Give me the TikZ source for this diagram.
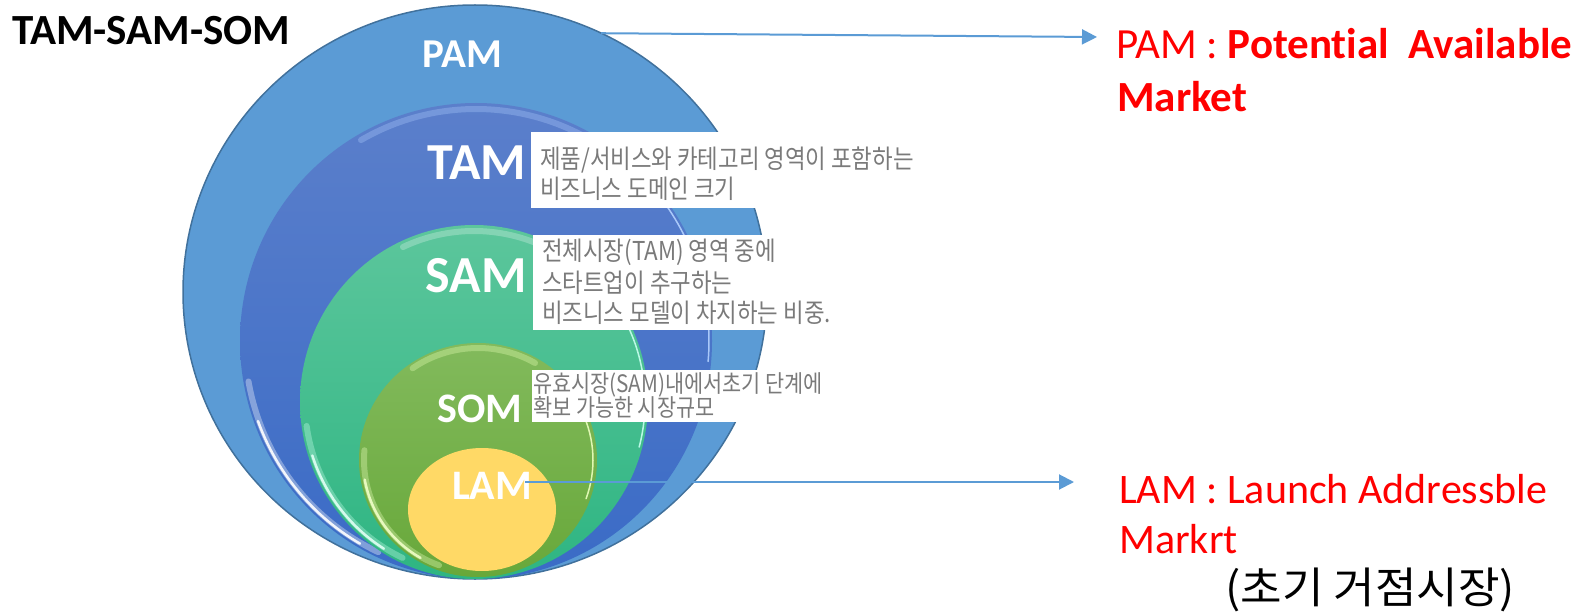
\documentclass[tikz,border=0pt]{standalone}
\usepackage{fontspec}
\setmainfont[Ligatures=NoCommon]{Carlito}
\newfontfamily\krbox[FakeStretch=0.86]{Noto Sans CJK KR}
\newfontfamily\krsmall[FakeStretch=0.865]{Noto Sans CJK KR}
\newfontfamily\krbig[FakeStretch=1.05]{Noto Sans CJK KR}
\usetikzlibrary{shapes.geometric,arrows.meta}
\definecolor{pamfill}{HTML}{5B9BD5}
\definecolor{pamedge}{HTML}{41719C}
\definecolor{tamtop}{HTML}{5B7FCB}
\definecolor{tambot}{HTML}{3A6BC6}
\definecolor{samtop}{HTML}{5CC69C}
\definecolor{sambot}{HTML}{2EB582}
\definecolor{somtop}{HTML}{82BA5C}
\definecolor{sombot}{HTML}{68A83A}
\definecolor{lamfill}{HTML}{FFD966}
\definecolor{boxtext}{HTML}{7A7A7A}
\definecolor{linkblue}{HTML}{5B9BD5}
\definecolor{labelred}{HTML}{FF0000}
\begin{document}
\begin{tikzpicture}[x=1pt,y=1pt,
  market/.style={ellipse, inner sep=0pt, outer sep=0pt},
  ringlabel/.style={text=white, font=\bfseries, inner sep=0pt, anchor=base},
  whitebox/.style={fill=white, draw=none, inner sep=0pt, outer sep=0pt, anchor=north west},
  boxline/.style={text=boxtext, inner sep=0pt, anchor=west},
  redlabel/.style={text=labelred, inner sep=0pt, anchor=base west},
  link/.style={draw=linkblue, line width=2pt, -{Triangle[length=15pt,width=15pt]}},
  softglow/.style={line width=6pt, opacity=0.35, line cap=round},
  brightglow/.style={line width=2.5pt, opacity=0.9, line cap=round}]
\useasboundingbox (0,0) rectangle (1591,-615);

% ellipses
\node[market, minimum width=584pt, minimum height=574pt, fill=pamfill, draw=pamedge, line width=1.5pt] (pam) at (475,-292) {};
\node[market, minimum width=472pt, minimum height=476pt, top color=tamtop, bottom color=tambot] (tam) at (476,-341) {};
% TAM gloss
\draw[softglow, draw={rgb,255:red,170;green,200;blue,250}] (tam.center) ++(60:230 and 232) arc[start angle=60, end angle=120, x radius=230, y radius=232];
\draw[softglow, draw=white] (tam.center) ++(190:231 and 233) arc[start angle=190, end angle=245, x radius=231, y radius=233];
\draw[brightglow, draw=white] (tam.center) ++(200:232 and 234) arc[start angle=200, end angle=240, x radius=232, y radius=234];
\draw[brightglow, line width=1.5pt, draw={rgb,255:red,180;green,210;blue,255}] (tam.center) ++(-5:233 and 235) arc[start angle=-5, end angle=40, x radius=233, y radius=235];

\node[market, minimum width=348pt, minimum height=354pt, top color=samtop, bottom color=sambot] (sam) at (474,-402) {};
% SAM gloss
\draw[softglow, draw={rgb,255:red,200;green,255;blue,235}] (sam.center) ++(188:169 and 172) arc[start angle=188, end angle=245, x radius=169, y radius=172];
\draw[brightglow, draw={rgb,255:red,225;green,255;blue,245}] (sam.center) ++(198:170 and 173) arc[start angle=198, end angle=238, x radius=170, y radius=173];
\draw[brightglow, line width=1.5pt, draw={rgb,255:red,200;green,255;blue,240}] (sam.center) ++(-15:171 and 174) arc[start angle=-15, end angle=28, x radius=171, y radius=174];
\draw[softglow, opacity=0.25, draw=white] (sam.center) ++(65:168 and 171) arc[start angle=65, end angle=115, x radius=168, y radius=171];

\node[market, minimum width=238pt, minimum height=234pt, top color=somtop, bottom color=sombot] (som) at (478,-460) {};
% SOM gloss
\draw[softglow, draw={rgb,255:red,230;green,255;blue,180}] (som.center) ++(60:114 and 112) arc[start angle=60, end angle=125, x radius=114, y radius=112];
\draw[softglow, draw={rgb,255:red,235;green,255;blue,190}] (som.center) ++(175:114 and 112) arc[start angle=175, end angle=250, x radius=114, y radius=112];
\draw[brightglow, draw={rgb,255:red,240;green,255;blue,200}] (som.center) ++(190:115 and 113) arc[start angle=190, end angle=240, x radius=115, y radius=113];
\draw[brightglow, line width=1.5pt, draw={rgb,255:red,235;green,255;blue,190}] (som.center) ++(-20:115 and 113) arc[start angle=-20, end angle=25, x radius=115, y radius=113];

\node[market, minimum width=148pt, minimum height=123pt, fill=lamfill] (lam) at (482,-509.5) {};

% labels in rings
\node[ringlabel, font=\bfseries\fontsize{41}{48}\selectfont] (pamlabel) at (462.5,-68) {PAM};
\node[ringlabel, font=\bfseries\fontsize{52}{60}\selectfont] (tamlabel) at (477,-179) {TAM};
\node[ringlabel, font=\bfseries\fontsize{52}{60}\selectfont] (samlabel) at (476,-292) {SAM};
\node[ringlabel, font=\bfseries\fontsize{42}{48}\selectfont] (somlabel) at (480,-422) {SOM};
\node[ringlabel, font=\bfseries\fontsize{42}{48}\selectfont] (lamlabel) at (492,-499) {LAM};

% title
\node[inner sep=0pt, anchor=base west, font=\bfseries\fontsize{43}{50}\selectfont] (title) at (12,-45) {TAM-SAM-SOM};

% white description boxes
\node[whitebox, minimum width=387pt, minimum height=76pt] (tambox) at (531,-132) {};
\node[boxline, font=\krbox\fontsize{26}{29}\selectfont] (tamtxta) at (540,-159.5) {제품/서비스와 카테고리 영역이 포함하는};
\node[boxline, font=\krbox\fontsize{26}{29}\selectfont] (tamtxtb) at (540,-189) {비즈니스 도메인 크기};

\node[whitebox, minimum width=315pt, minimum height=95pt] (sambox) at (533,-235) {};
\node[boxline, font=\krbox\fontsize{26}{29}\selectfont] (samtxta) at (542,-252.5) {전체시장(TAM) 영역 중에};
\node[boxline, font=\krbox\fontsize{26}{29}\selectfont] (samtxtb) at (542,-283) {스타트업이 추구하는};
\node[boxline, font=\krbox\fontsize{26}{29}\selectfont] (samtxtc) at (542,-312.5) {비즈니스 모델이 차지하는 비중.};

\node[whitebox, minimum width=298pt, minimum height=52pt] (sombox) at (532,-370) {};
\node[boxline, font=\krsmall\fontsize{24}{27}\selectfont] (somtxta) at (533,-385) {유효시장(SAM)내에서초기 단계에};
\node[boxline, font=\krsmall\fontsize{24}{27}\selectfont] (somtxtb) at (533,-407) {확보 가능한 시장규모};

% right side labels
\node[redlabel, font=\fontsize{43}{50}\selectfont] (pamdef) at (1116,-59) {PAM : \textbf{Potential~~Available}};
\node[redlabel, font=\bfseries\fontsize{43}{50}\selectfont] (pamdefb) at (1117,-112) {Market};
\node[redlabel, font=\fontsize{42}{50}\selectfont] (lamdef) at (1119,-503) {LAM : Launch Addressble};
\node[redlabel, font=\fontsize{42}{50}\selectfont] (lamdefb) at (1119,-553) {Markrt};
\node[inner sep=0pt, anchor=west, font=\krbig\fontsize{43}{48}\selectfont] (lamkr) at (1225,-590) {(초기 거점시장)};

% connectors
\coordinate (pamArrowEnd) at (1097,-37);
\coordinate (lamArrowStart) at (525,-482);
\coordinate (lamArrowEnd) at (1074,-482);
\draw[link] (pam.64) -- (pamArrowEnd);
\draw[link] (lamArrowStart) -- (lamArrowEnd);
\end{tikzpicture}
\end{document}
